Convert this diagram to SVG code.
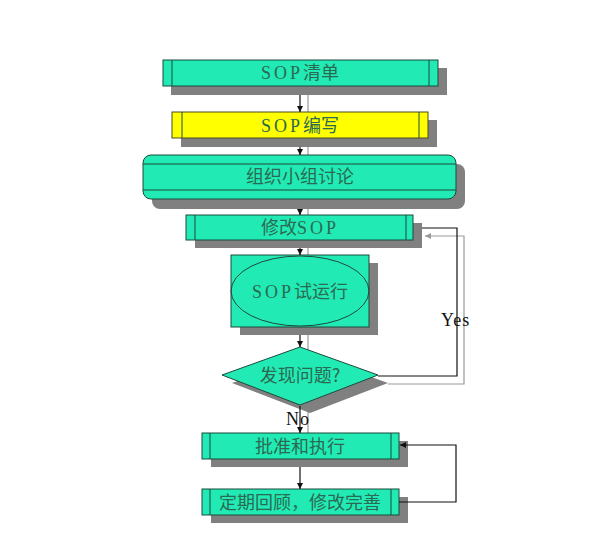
<svg xmlns="http://www.w3.org/2000/svg" width="600" height="546" viewBox="0 0 600 546">
<defs>
<style>
.sh{fill:#808080;stroke:none}
.bx{fill:#22eab4;stroke:#1d4a3c;stroke-width:1}
.yb{fill:#ffff00;stroke:#4a4a20;stroke-width:1}
.ln{stroke:#1d4a3c;stroke-width:1;fill:none}
.t{font-family:"Noto Sans CJK SC","Liberation Sans",sans-serif;font-size:18px;fill:#2b6a52;text-anchor:middle}
.lat{font-family:"Liberation Serif",serif;font-size:18px;letter-spacing:3px}
.lb{font-family:"Liberation Serif",serif;font-size:18px;fill:#111;letter-spacing:1px}
.c{stroke:#111;stroke-width:1.2;fill:none}
.cs{stroke:#9a9a9a;stroke-width:1.2;fill:none}
</style>
<marker id="ah" viewBox="0 0 10 10" refX="10" refY="5" markerWidth="6" markerHeight="6" orient="auto" markerUnits="userSpaceOnUse">
<path d="M0,0 L10,5 L0,10 z" fill="#111"/>
</marker>
<marker id="ahg" viewBox="0 0 10 10" refX="10" refY="5" markerWidth="6" markerHeight="6" orient="auto" markerUnits="userSpaceOnUse">
<path d="M0,0 L10,5 L0,10 z" fill="#9a9a9a"/>
</marker>
</defs>
<rect width="600" height="546" fill="#ffffff"/>
<g id="connector-shadows">
<line class="cs" x1="308" y1="86" x2="308" y2="352"/>
<line class="cs" x1="308" y1="405" x2="308" y2="433"/>
<polyline class="cs" points="388,384 464,384 464,236 425,236" marker-end="url(#ahg)"/>
</g>
<g id="n1">
<rect class="sh" x="171" y="68" width="276" height="27"/>
<rect class="bx" x="163" y="60" width="275" height="26"/>
<line class="ln" x1="172" y1="60" x2="172" y2="86"/>
<line class="ln" x1="429" y1="60" x2="429" y2="86"/>
<text class="t" x="300" y="79"><tspan class="lat">SOP</tspan>清单</text>
</g>
<g id="n2">
<rect class="sh" x="181" y="120" width="256" height="27"/>
<rect class="yb" x="172" y="112" width="256" height="26"/>
<line class="ln" x1="182" y1="112" x2="182" y2="138" stroke="#4a4a20"/>
<line class="ln" x1="419" y1="112" x2="419" y2="138" stroke="#4a4a20"/>
<text class="t" x="300" y="132"><tspan class="lat">SOP</tspan>编写</text>
</g>
<g id="n3">
<rect class="sh" x="152" y="164" width="313" height="45" rx="8"/>
<rect class="bx" x="143" y="155" width="313" height="44" rx="8"/>
<line class="ln" x1="143" y1="164" x2="456" y2="164"/>
<line class="ln" x1="143" y1="190" x2="456" y2="190"/>
<text class="t" x="300" y="183">组织小组讨论</text>
</g>
<g id="n4">
<rect class="sh" x="195" y="223" width="227" height="25"/>
<rect class="bx" x="186" y="215" width="227" height="25"/>
<line class="ln" x1="195" y1="215" x2="195" y2="240"/>
<line class="ln" x1="406" y1="215" x2="406" y2="240"/>
<text class="t" x="300" y="234">修改<tspan class="lat">SOP</tspan></text>
</g>
<g id="n5">
<rect class="sh" x="240" y="263" width="138" height="72"/>
<rect class="bx" x="231" y="255" width="138" height="72"/>
<ellipse class="ln" cx="300" cy="291" rx="69" ry="35"/>
<text class="t" x="300" y="298"><tspan class="lat">SOP</tspan>试运行</text>
</g>
<g id="n6">
<polygon class="sh" points="310,355 388,383 310,413 232,383"/>
<polygon class="bx" points="300,347 378,375 300,405 222,375"/>
<text class="t" x="300" y="382">发现问题?</text>
</g>
<g id="n7">
<rect class="sh" x="211" y="441" width="197" height="26"/>
<rect class="bx" x="202" y="433" width="197" height="26"/>
<line class="ln" x1="210" y1="433" x2="210" y2="459"/>
<line class="ln" x1="391" y1="433" x2="391" y2="459"/>
<text class="t" x="300" y="453">批准和执行</text>
</g>
<g id="n8">
<rect class="sh" x="211" y="497" width="197" height="26"/>
<rect class="bx" x="202" y="489" width="197" height="26"/>
<line class="ln" x1="210" y1="489" x2="210" y2="515"/>
<line class="ln" x1="391" y1="489" x2="391" y2="515"/>
<text class="t" x="300" y="509">定期回顾，修改完善</text>
</g>
<g id="connectors">
<line class="c" x1="300" y1="95" x2="300" y2="112" marker-end="url(#ah)"/>
<line class="c" x1="300" y1="147" x2="300" y2="155" marker-end="url(#ah)"/>
<line class="c" x1="300" y1="209" x2="300" y2="215" marker-end="url(#ah)"/>
<line class="c" x1="300" y1="248" x2="300" y2="255" marker-end="url(#ah)"/>
<line class="c" x1="300" y1="335" x2="300" y2="347" marker-end="url(#ah)"/>
<line class="c" x1="300" y1="406" x2="300" y2="433" marker-end="url(#ah)"/>
<line class="c" x1="300" y1="467" x2="300" y2="489" marker-end="url(#ah)"/>
<polyline class="c" points="378,376 457,376 457,228 422,228" stroke="#555"/>
<polyline class="c" points="399,502 456,502 456,445 400,445" marker-end="url(#ah)"/>
<text class="lb" x="441" y="326">Yes</text>
<text class="lb" x="286" y="425">No</text>
</g>
</svg>
